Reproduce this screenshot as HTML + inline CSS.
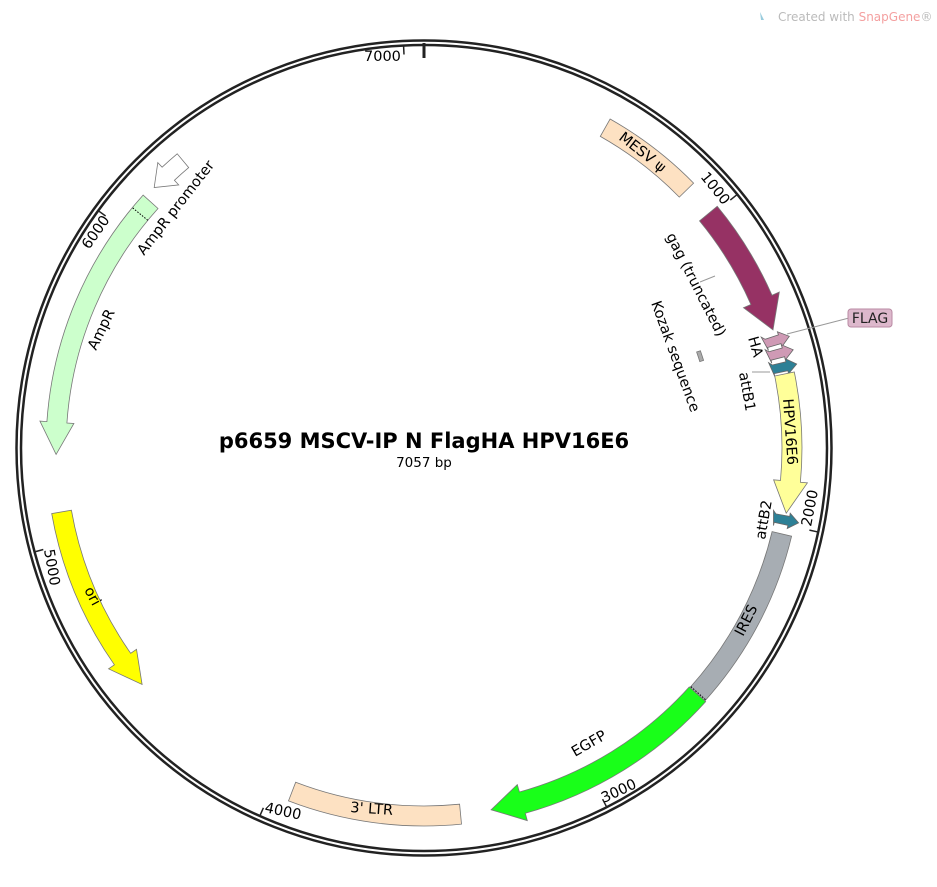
<!DOCTYPE html>
<html><head><meta charset="utf-8">
<style>
html,body{margin:0;padding:0;background:#fff;}
svg{display:block;font-family:"DejaVu Sans","Liberation Sans",sans-serif;}
</style></head>
<body>
<svg id="s" width="937" height="887" viewBox="0 0 937 887" xmlns="http://www.w3.org/2000/svg">
<text x="778" y="21" font-size="12" fill="#bbb">Created with <tspan fill="#f4a0a0">SnapGene</tspan>®</text>
<path d="M760 12 l4 8 l-3 0 z" fill="#9cd"/>
<circle cx="424" cy="448" r="407.5" fill="none" stroke="#222" stroke-width="2.5"/>
<circle cx="424" cy="448" r="403" fill="none" stroke="#222" stroke-width="2.5"/>
<line x1="424" y1="43" x2="424" y2="58" stroke="#222" stroke-width="3"/>
<g id="f"></g>
<g font-size="14.5" fill="#000">
<text x="424" y="448" text-anchor="middle" font-size="21" font-weight="bold">p6659 MSCV-IP N FlagHA HPV16E6</text>
<text x="424" y="467" text-anchor="middle" font-size="13.5">7057 bp</text>
<text x="364" y="61">7000</text>
<text transform="translate(700,177) rotate(51)">1000</text>
<text transform="translate(811,527) rotate(-79)">2000</text>
<text transform="translate(604,803) rotate(-25)">3000</text>
<text transform="translate(264,812) rotate(12)">4000</text>
<text transform="translate(44,550) rotate(80)">5000</text>
<text transform="translate(89,250) rotate(-55)">6000</text>
<text transform="translate(618,139) rotate(38)">MESV ψ</text>
<text transform="translate(666,236) rotate(63)">gag (truncated)</text>
<text transform="translate(651,303) rotate(70)">Kozak sequence</text>
<text transform="translate(748,338) rotate(74)">HA</text>
<text transform="translate(739,373) rotate(80)">attB1</text>
<text transform="translate(783,399) rotate(86)">HPV16E6</text>
<text transform="translate(765,540) rotate(-80)">attB2</text>
<text transform="translate(743,637) rotate(-63)">IRES</text>
<text transform="translate(575,757) rotate(-30)">EGFP</text>
<text transform="translate(350,812) rotate(4)">3' LTR</text>
<text transform="translate(84,590) rotate(62)">ori</text>
<text transform="translate(96,351) rotate(-64)">AmpR</text>
<text transform="translate(144,256) rotate(-52)">AmpR promoter</text>
</g>
<line x1="787" y1="334" x2="849" y2="318" stroke="#999" stroke-width="1"/>
<line x1="770" y1="372" x2="752" y2="372" stroke="#999" stroke-width="1"/>
<line x1="715" y1="276" x2="700" y2="282" stroke="#999" stroke-width="1"/>
<rect x="848" y="309" width="44" height="18" rx="3" fill="#ddb8cc" stroke="#b98aa3"/>
<text x="870" y="323" text-anchor="middle" font-size="14" fill="#222">FLAG</text>
</svg>
<script>
var cx=424,cy=448;
function P(a,r){a=a*Math.PI/180;return [(cx+r*Math.sin(a)).toFixed(1),(cy-r*Math.cos(a)).toFixed(1)];}
function arcp(a1,a2,r){var p=P(a2,r);var lg=Math.abs(a2-a1)>180?1:0;var sw=a2>a1?1:0;return "A"+r+" "+r+" 0 "+lg+" "+sw+" "+p[0]+" "+p[1];}
function feat(a1,a2,r1,r2,dir,head,fill,stroke){
 var d,rm=(r1+r2)/2,w=(r2-r1)*0.35;
 if(dir==0){var p=P(a1,r2);d="M"+p+arcp(a1,a2,r2)+"L"+P(a2,r1)+arcp(a2,a1,r1)+"Z";}
 else if(dir==1){var b=a2-head;d="M"+P(a1,r2)+arcp(a1,b,r2)+"L"+P(b,r2+w)+"L"+P(a2,rm)+"L"+P(b,r1-w)+"L"+P(b,r1)+arcp(b,a1,r1)+"Z";}
 else{var b=a1+head;d="M"+P(a2,r2)+arcp(a2,b,r2)+"L"+P(b,r2+w)+"L"+P(a1,rm)+"L"+P(b,r1-w)+"L"+P(b,r1)+arcp(b,a2,r1)+"Z";}
 return '<path d="'+d+'" fill="'+fill+'" stroke="'+(stroke||'#777')+'" stroke-width="0.8"/>';
}
function small(a,r1,r2,fill){
 var t=0.7;
 var d="M"+P(a-t,r1)+"L"+P(a-t,r2-6)+"L"+P(a-t-0.5,r2-6)+"L"+P(a,r2+4)+"L"+P(a+t+0.5,r2-6)+"L"+P(a+t,r2-6)+"L"+P(a+t,r1)+"L"+P(a+t+0.5,r1)+"L"+P(a-t-0.5,r1-3)+"Z";
 return '<path d="'+d+'" fill="'+fill+'" stroke="#666" stroke-width="0.8"/>';
}
var h="";
h+=feat(29.5,45.5,358,378,0,0,"#fde1c2");
h+=feat(50.5,71.3,357,380,1,5,"#963264");
h+=small(73.0,358,378,"#cf9ab5");
h+=small(75.1,358,378,"#cf9ab5");
h+=small(77.3,358,378,"#2d8096");
h+=feat(78.4,100.2,358,378,1,5,"#ffff99");
h+=small(101.3,358,378,"#2d8096");
h+=feat(103.5,132,358,378,0,0,"#a7adb3");
h+=feat(132,169.5,357,379,1,5,"#19ff19");
h+=feat(174.3,201,358,378,0,0,"#fde1c2");
h+=feat(230,260,358,378,-1,5,"#ffff00");
h+=feat(269,312,358,378,-1,5,"#ccffcc");
h+=feat(314,320,366,384,-1,3,"#ffffff");
h+='<line x1="'+P(309.5,358)[0]+'" y1="'+P(309.5,358)[1]+'" x2="'+P(309.5,378)[0]+'" y2="'+P(309.5,378)[1]+'" stroke="#000" stroke-dasharray="1.5,1.5"/>';
h+='<line x1="'+P(131.8,358)[0]+'" y1="'+P(131.8,358)[1]+'" x2="'+P(131.8,378)[0]+'" y2="'+P(131.8,378)[1]+'" stroke="#000" stroke-dasharray="1.5,1.5"/>';
h+=feat(70.6,72.6,289,293,0,0,"#aaaaaa");
[1000,2000,3000,4000,5000,6000,7000].forEach(function(b){var a=b/7057*360;var p1=P(a,402),p2=P(a,394);h+='<line x1="'+p1[0]+'" y1="'+p1[1]+'" x2="'+p2[0]+'" y2="'+p2[1]+'" stroke="#222" stroke-width="1.5"/>';});
document.getElementById("f").innerHTML=h;
</script>
</body></html>
